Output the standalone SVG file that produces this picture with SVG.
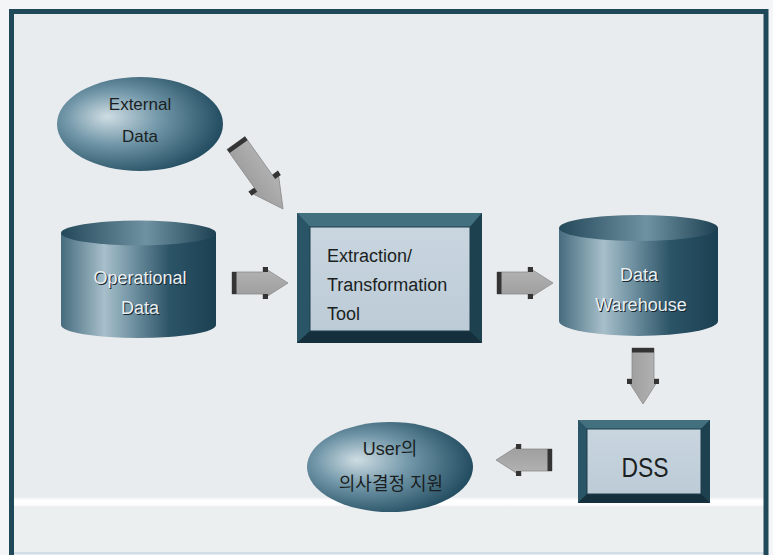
<svg xmlns="http://www.w3.org/2000/svg" width="773" height="555" viewBox="0 0 773 555">
  <defs>
    <style>
      .lbl { font-family: "Liberation Sans", Arial, sans-serif; fill: #1b1f22; }
      .ko { font-family: "Liberation Sans", "Noto Sans CJK KR", sans-serif; fill: #1b1f22; }
      .emb { font-family: "Liberation Sans", Arial, sans-serif; fill: #e9eff2; }
      .embs { font-family: "Liberation Sans", Arial, sans-serif; fill: #15262e; }
      .arrow { fill: url(#arrowFill); stroke: #8c8c8c; stroke-width: 0.8; }
      .edge { fill: #343434; }
      .bevTop { fill: #42707f; }
      .bevLeft { fill: #2a5566; }
      .bevRight { fill: #1e4150; }
      .bevBot { fill: #15303c; }
      .inner { fill: url(#panel); stroke: #1d3d4a; stroke-width: 1; }
    </style>
    <radialGradient id="orb" cx="0.38" cy="0.45" r="0.65" fx="0.3" fy="0.42">
      <stop offset="0" stop-color="#cfdde3"/>
      <stop offset="0.45" stop-color="#6f95a7"/>
      <stop offset="1" stop-color="#1d475b"/>
    </radialGradient>
    <linearGradient id="body" x1="0" y1="0" x2="1" y2="0">
      <stop offset="0" stop-color="#466c7e"/>
      <stop offset="0.28" stop-color="#a7bfca"/>
      <stop offset="0.42" stop-color="#7c9cab"/>
      <stop offset="0.7" stop-color="#2c5467"/>
      <stop offset="1" stop-color="#1b4052"/>
    </linearGradient>
    <linearGradient id="lid" x1="0" y1="0" x2="1" y2="0">
      <stop offset="0" stop-color="#24495a"/>
      <stop offset="0.55" stop-color="#6f92a2"/>
      <stop offset="1" stop-color="#1d4152"/>
    </linearGradient>
    <linearGradient id="panel" x1="0" y1="0" x2="0" y2="1">
      <stop offset="0" stop-color="#c9d6e0"/>
      <stop offset="1" stop-color="#bccbd6"/>
    </linearGradient>
    <linearGradient id="arrowFill" x1="0" y1="0" x2="0" y2="1">
      <stop offset="0" stop-color="#b4b4b4"/>
      <stop offset="1" stop-color="#9c9c9c"/>
    </linearGradient>
    <linearGradient id="band" x1="0" y1="0" x2="0" y2="1">
      <stop offset="0" stop-color="#e9ecee"/>
      <stop offset="0.3" stop-color="#ffffff"/>
      <stop offset="0.7" stop-color="#fbfcfc"/>
      <stop offset="1" stop-color="#e6e9eb"/>
    </linearGradient>
    <!-- block arrow pointing right, origin at the tail centre -->
    <g id="blockArrow">
      <polygon class="arrow" points="0,-11 31,-11 31,-16 56,0 31,16 31,11 0,11"/>
      <rect class="edge" x="0" y="-11" width="4.5" height="22"/>
      <rect class="edge" x="31" y="-16" width="5" height="5"/>
      <rect class="edge" x="31" y="11" width="5" height="5"/>
    </g>
  </defs>

  <!-- page and frame -->
  <rect x="0" y="0" width="773" height="555" fill="#f3f5f6"/>
  <rect x="11.5" y="11.5" width="754.5" height="560" fill="#e9ecee"/>
  <rect x="14" y="497" width="750" height="11" fill="url(#band)"/>
  <rect x="14" y="508" width="750" height="45" fill="#eceff0"/>
  <line x1="14" y1="553" x2="764" y2="553" stroke="#c9d9e3" stroke-width="1.5"/>
  <rect x="11.5" y="11.5" width="754.5" height="560" fill="none" stroke="#1f4858" stroke-width="5"/>

  <!-- connectors -->
  <g id="connectors">
    <use href="#blockArrow" transform="translate(232,283)"/>
    <use href="#blockArrow" transform="translate(497,283)"/>
    <use href="#blockArrow" transform="translate(643,348) rotate(90)"/>
    <use href="#blockArrow" transform="translate(552,460) rotate(180)"/>
    <g transform="translate(236,143) rotate(54.5)">
      <polygon class="arrow" points="0,-11 47,-11 47,-18 81,0 47,18 47,11 0,11"/>
      <rect class="edge" x="0" y="-11" width="4.5" height="22"/>
      <rect class="edge" x="47" y="-18" width="5" height="7"/>
      <rect class="edge" x="47" y="11" width="5" height="7"/>
    </g>
  </g>

  <!-- External Data -->
  <g id="external-data">
    <ellipse cx="140" cy="124" rx="83" ry="47" fill="url(#orb)"/>
    <text class="lbl" x="140" y="110" font-size="17" text-anchor="middle">External</text>
    <text class="lbl" x="140" y="142" font-size="17" text-anchor="middle">Data</text>
  </g>

  <!-- Operational Data -->
  <g id="operational-data">
    <path d="M61,233 L61,325 A77.5,13 0 0 0 216,325 L216,233 Z" fill="url(#body)"/>
    <ellipse cx="138.5" cy="233" rx="77.5" ry="12.5" fill="url(#lid)"/>
    <text class="embs" x="141" y="285" font-size="18" text-anchor="middle">Operational</text>
    <text class="emb" x="140" y="284" font-size="18" text-anchor="middle">Operational</text>
    <text class="embs" x="141" y="315" font-size="18" text-anchor="middle">Data</text>
    <text class="emb" x="140" y="314" font-size="18" text-anchor="middle">Data</text>
  </g>

  <!-- Extraction / Transformation Tool -->
  <g id="etl-tool">
    <rect x="297" y="213" width="185" height="130" fill="#1e4150"/>
    <polygon class="bevTop" points="297,213 482,213 470,227 310,227"/>
    <polygon class="bevLeft" points="297,213 310,227 310,331 297,343"/>
    <polygon class="bevRight" points="482,213 482,343 470,331 470,227"/>
    <polygon class="bevBot" points="297,343 310,331 470,331 482,343"/>
    <rect class="inner" x="310" y="227" width="160" height="104"/>
    <text class="lbl" x="327" y="262" font-size="18">Extraction/</text>
    <text class="lbl" x="327" y="291" font-size="18">Transformation</text>
    <text class="lbl" x="327" y="320" font-size="18">Tool</text>
  </g>

  <!-- Data Warehouse -->
  <g id="data-warehouse">
    <path d="M559,228 L559,321 A79.5,15 0 0 0 718,321 L718,228 Z" fill="url(#body)"/>
    <ellipse cx="638.5" cy="228" rx="79.5" ry="13" fill="url(#lid)"/>
    <text class="embs" x="640" y="282" font-size="18" text-anchor="middle">Data</text>
    <text class="emb" x="639" y="281" font-size="18" text-anchor="middle">Data</text>
    <text class="embs" x="642" y="312" font-size="18" text-anchor="middle">Warehouse</text>
    <text class="emb" x="641" y="311" font-size="18" text-anchor="middle">Warehouse</text>
  </g>

  <!-- DSS -->
  <g id="dss">
    <rect x="578" y="420" width="132" height="83" fill="#1e4150"/>
    <polygon class="bevTop" points="578,420 710,420 701,429 587,429"/>
    <polygon class="bevLeft" points="578,420 587,429 587,494 578,503"/>
    <polygon class="bevRight" points="710,420 710,503 701,494 701,429"/>
    <polygon class="bevBot" points="578,503 587,494 701,494 710,503"/>
    <rect class="inner" x="587" y="429" width="114" height="65"/>
    <text class="lbl" x="645" y="477" font-size="28" text-anchor="middle" textLength="47" lengthAdjust="spacingAndGlyphs">DSS</text>
  </g>

  <!-- User decision support -->
  <g id="user-support">
    <ellipse cx="390" cy="467" rx="83" ry="45" fill="url(#orb)"/>
    <text class="ko" x="390" y="455" font-size="18" text-anchor="middle">User의</text>
    <text class="ko" x="391" y="490" font-size="18" text-anchor="middle">의사결정 지원</text>
  </g>
</svg>
